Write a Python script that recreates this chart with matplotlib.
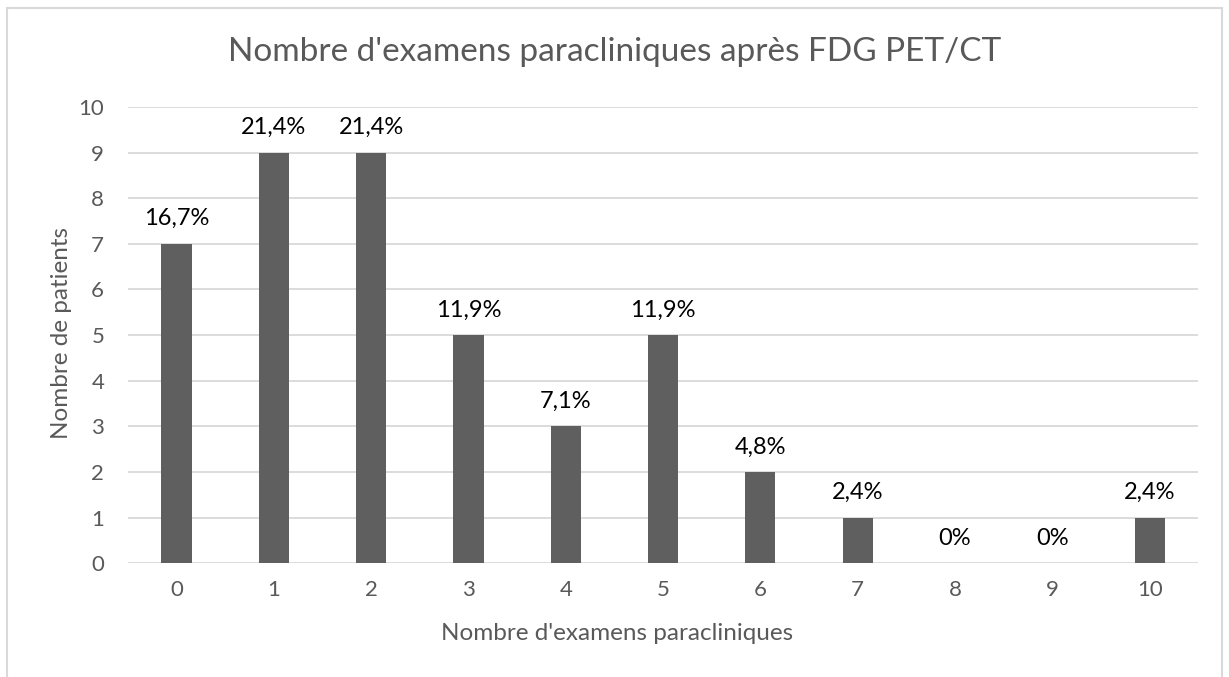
import matplotlib.pyplot as plt
from matplotlib.patches import Rectangle

# -------------- DATA ---------------------------------------
categories = ["0", "1", "2", "3", "4", "5", "6", "7", "8", "9", "10"]
patients   = [7, 9, 9, 5, 3, 5, 2, 1, 0, 0, 1]
pct_labels = ["16,7%", "21,4%", "21,4%", "11,9%", "7,1%", "11,9%",
              "4,8%", "2,4%", "0%", "0%", "2,4%"]
y_ticks    = list(range(0, 11))
# -----------------------------------------------------------

bar_color  = "#5f5f5f"
grid_color = "#d9d9d9"
text_grey  = "#595959"

plt.rcParams["font.family"] = ["Lato", "DejaVu Sans"]

fig = plt.figure(figsize=(12.29, 6.77), dpi=100)
ax = fig.add_axes([0.104, 0.168, 0.871, 0.674])

x = list(range(len(categories)))
ax.bar(x, patients, width=0.31, color=bar_color, zorder=3)

for xi, v, lab in zip(x, patients, pct_labels):
    ax.annotate(lab, (xi, v), xytext=(0, 10.5), textcoords="offset points",
                ha="center", va="bottom", fontsize=17, color="black")

ax.set_xlim(-0.5, len(categories) - 0.5)
ax.set_ylim(0, 10)
ax.set_yticks(y_ticks)
ax.set_xticks(x)
ax.set_xticklabels(categories)
ax.grid(axis="y", color=grid_color, linewidth=1.3, zorder=0)
for s in ax.spines.values():
    s.set_visible(False)
ax.tick_params(axis="y", length=0, labelsize=16, labelcolor=text_grey, pad=17)
ax.tick_params(axis="x", length=0, labelsize=16, labelcolor=text_grey, pad=12)

# axis titles are centred on the whole chart area, not on the plot area
ax.set_xlabel("Nombre d'examens paracliniques", fontsize=17.5, color=text_grey)
ax.xaxis.set_label_coords(0.457, -0.155)
ax.xaxis.label.set_va("center")
ax.set_ylabel("Nombre de patients", fontsize=17.5, color=text_grey)
ax.yaxis.set_label_coords(-0.062, 0.505)
ax.yaxis.label.set_va("center")
fig.text(0.5, 1 - 52 / 677, "Nombre d'examens paracliniques après FDG PET/CT",
         fontsize=24, color=text_grey, ha="center", va="center")

# chart border
fig.patches.append(Rectangle((0.006, -0.02), 0.988, 1.008, transform=fig.transFigure,
                             fill=False, edgecolor="#d9d9d9", linewidth=1.5))

fig.savefig("out.png", dpi=100)
